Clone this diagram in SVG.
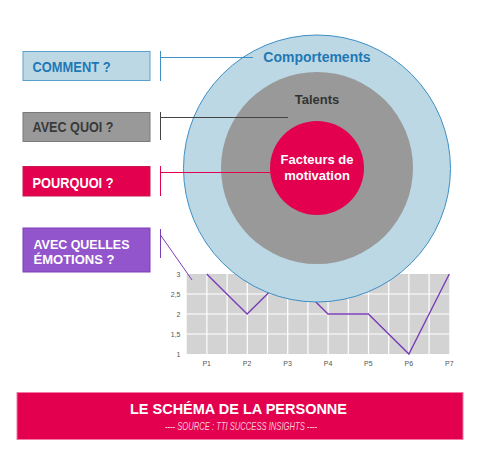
<svg xmlns="http://www.w3.org/2000/svg" width="480" height="454" viewBox="0 0 480 454">
<style>
.b{font-family:"Liberation Sans",Arial,sans-serif;font-weight:bold}
.ax{font-family:"Liberation Sans",Arial,sans-serif;font-size:7px;fill:#555}
.grid line{stroke:#fff;stroke-width:1.2}
.con line,.con polyline{fill:none;stroke-width:1}
</style>
<rect width="480" height="454" fill="#fff"/>

<g id="chart">
  <rect x="186.7" y="274" width="262.6" height="80" fill="#d3d3d3"/>
  <g class="grid">
    <line x1="186.7" y1="294" x2="449.3" y2="294"/>
    <line x1="186.7" y1="314" x2="449.3" y2="314"/>
    <line x1="186.7" y1="334" x2="449.3" y2="334"/>
    <line x1="206.9" y1="274" x2="206.9" y2="354"/>
    <line x1="227.1" y1="274" x2="227.1" y2="354"/>
    <line x1="247.3" y1="274" x2="247.3" y2="354"/>
    <line x1="267.5" y1="274" x2="267.5" y2="354"/>
    <line x1="287.7" y1="274" x2="287.7" y2="354"/>
    <line x1="307.9" y1="274" x2="307.9" y2="354"/>
    <line x1="328.1" y1="274" x2="328.1" y2="354"/>
    <line x1="348.3" y1="274" x2="348.3" y2="354"/>
    <line x1="368.5" y1="274" x2="368.5" y2="354"/>
    <line x1="388.7" y1="274" x2="388.7" y2="354"/>
    <line x1="408.9" y1="274" x2="408.9" y2="354"/>
    <line x1="429.1" y1="274" x2="429.1" y2="354"/>
  </g>
  <polyline points="206.7,274 247.1,314 287.6,274 328,314 368.4,314 408.9,354 449.3,274" fill="none" stroke="#7b3db8" stroke-width="1.4"/>
  <g class="ax" text-anchor="end">
    <text x="180.5" y="276.5">3</text>
    <text x="180.5" y="296.5">2,5</text>
    <text x="180.5" y="316.5">2</text>
    <text x="180.5" y="336.5">1,5</text>
    <text x="180.5" y="356.5">1</text>
  </g>
  <g class="ax" text-anchor="middle">
    <text x="206.7" y="366">P1</text>
    <text x="247.1" y="366">P2</text>
    <text x="287.6" y="366">P3</text>
    <text x="328" y="366">P4</text>
    <text x="368.4" y="366">P5</text>
    <text x="408.9" y="366">P6</text>
    <text x="449.3" y="366">P7</text>
  </g>
</g>

<g id="comportements">
  <circle cx="317" cy="168.5" r="133.5" fill="#bdd8e5" stroke="#3d8fc4" stroke-width="1"/>
  <text class="b" x="317" y="62" text-anchor="middle" font-size="14" fill="#1f78b4">Comportements</text>
</g>
<g id="talents">
  <circle cx="317" cy="168" r="96" fill="#999"/>
  <text class="b" x="317" y="104" text-anchor="middle" font-size="13" fill="#333">Talents</text>
</g>
<g id="motivation">
  <circle cx="317" cy="168" r="47" fill="#e2004f"/>
  <text class="b" x="317" y="164" text-anchor="middle" font-size="13" fill="#fff">Facteurs de</text>
  <text class="b" x="317" y="180" text-anchor="middle" font-size="13" fill="#fff">motivation</text>
</g>

<g id="comment">
  <rect x="23" y="51.5" width="127" height="29" fill="#bdd8e5" stroke="#5aa0d0" stroke-width="1"/>
  <text class="b" x="32.5" y="71.5" font-size="14" fill="#1f78b4" textLength="78" lengthAdjust="spacingAndGlyphs">COMMENT ?</text>
</g>
<g id="avec-quoi">
  <rect x="23" y="112.5" width="127" height="29" fill="#999" stroke="#7a7a7a" stroke-width="1"/>
  <text class="b" x="32.5" y="132" font-size="14" fill="#3a3a3a" textLength="81" lengthAdjust="spacingAndGlyphs">AVEC QUOI ?</text>
</g>
<g id="pourquoi">
  <rect x="23" y="166.5" width="127" height="29.5" fill="#e2004f" stroke="#c8174f" stroke-width="1"/>
  <text class="b" x="32.5" y="188" font-size="14" fill="#fff" textLength="81" lengthAdjust="spacingAndGlyphs">POURQUOI ?</text>
</g>
<g id="emotions">
  <rect x="23" y="228" width="127" height="44" fill="#9355cc" stroke="#7d3db8" stroke-width="1"/>
  <text class="b" x="33.5" y="249" font-size="12.5" fill="#fff" textLength="96" lengthAdjust="spacingAndGlyphs">AVEC QUELLES</text>
  <text class="b" x="33.5" y="264" font-size="12.5" fill="#fff" textLength="81" lengthAdjust="spacingAndGlyphs">ÉMOTIONS ?</text>
</g>

<g id="connectors" class="con">
  <polyline points="160.5,51 160.5,81" stroke="#3d8fc4"/>
  <line x1="160.5" y1="57.5" x2="253" y2="57.5" stroke="#3d8fc4"/>
  <polyline points="160.5,112 160.5,140" stroke="#444"/>
  <line x1="160.5" y1="117.5" x2="288" y2="117.5" stroke="#444"/>
  <polyline points="160.5,166 160.5,196" stroke="#e2004f"/>
  <line x1="160.5" y1="172.5" x2="270.5" y2="172.5" stroke="#e2004f"/>
  <polyline points="160.5,229 160.5,258" stroke="#7b3db8" stroke-width="1.3"/>
  <line x1="160.5" y1="235" x2="192" y2="280" stroke="#7b3db8" stroke-width="1.3"/>
</g>

<g id="banner">
  <rect x="17" y="392.5" width="446" height="47" fill="#e2004f" stroke="#f07aa0" stroke-width="1"/>
  <text class="b" x="238.5" y="413.5" text-anchor="middle" font-size="15.5" fill="#fff" textLength="217" lengthAdjust="spacingAndGlyphs">LE SCHÉMA DE LA PERSONNE</text>
  <text x="241" y="429.5" text-anchor="middle" font-family="'Liberation Sans',Arial,sans-serif" font-style="italic" font-size="11" fill="#f8c8d8" textLength="152" lengthAdjust="spacingAndGlyphs">---- SOURCE  : TTI SUCCESS INSIGHTS ----</text>
</g>
</svg>
